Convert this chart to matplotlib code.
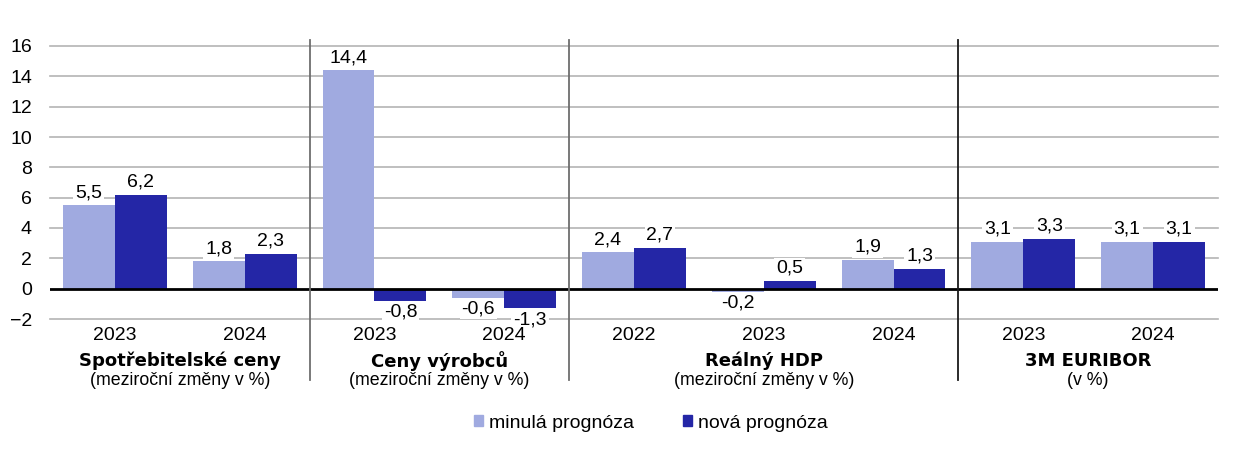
import matplotlib
matplotlib.use("Agg")
import matplotlib.pyplot as plt
from matplotlib.patches import Patch
import numpy as np

plt.rcParams['font.family'] = ['Liberation Sans', 'DejaVu Sans']

years = ["2023", "2024", "2023", "2024", "2022", "2023", "2024", "2023", "2024"]
prev_forecast = [5.5, 1.8, 14.4, -0.6, 2.4, -0.2, 1.9, 3.1, 3.1]
new_forecast = [6.2, 2.3, -0.8, -1.3, 2.7, 0.5, 1.3, 3.3, 3.1]
group_titles = ["Spotřebitelské ceny", "Ceny výrobců", "Reálný HDP", "3M EURIBOR"]
group_subtitles = ["(meziroční změny v %)", "(meziroční změny v %)", "(meziroční změny v %)", "(v %)"]
group_sizes = [2, 2, 3, 2]
series_names = ["minulá prognóza", "nová prognóza"]
y_ticks = [-2, 0, 2, 4, 6, 8, 10, 12, 14, 16]

c_light = "#A0AAE0"
c_dark = "#2426A6"
FS = 14

fig = plt.figure(figsize=(12.54, 4.74), dpi=100)
ax = fig.add_axes([50/1254, 1-319/474, 1168/1254, 273/474])

x = np.arange(len(years))
w = 0.4
b1 = ax.bar(x - w/2, prev_forecast, w, color=c_light, zorder=3)
b2 = ax.bar(x + w/2, new_forecast, w, color=c_dark, zorder=3)

ax.set_xlim(-0.5, len(years) - 0.5)
ax.set_ylim(-2, 16)
ax.set_yticks(y_ticks)
ax.set_yticklabels([("\u2212" + str(-t)) if t < 0 else str(t) for t in y_ticks], fontsize=FS)
for t in y_ticks:
    if t == 0:
        continue
    ax.axhline(t, color="#B4B4B4", lw=1.2, zorder=1, clip_on=False)
ax.axhline(0, color="black", lw=2, zorder=4)

for s in ax.spines.values():
    s.set_visible(False)
ax.tick_params(axis='y', length=0, pad=13)
ax.tick_params(axis='x', length=0)
ax.set_xticks([])

def fmt(v):
    return ("-" if v < 0 else "") + f"{abs(v):.1f}".replace(".", ",")

for bars, vals in ((b1, prev_forecast), (b2, new_forecast)):
    for bar, v in zip(bars, vals):
        cx = bar.get_x() + bar.get_width()/2
        if v >= 0:
            ax.annotate(fmt(v), (cx, v), xytext=(0, 3), textcoords="offset points",
                        ha="center", va="bottom", fontsize=FS, zorder=2,
                        bbox=dict(boxstyle="square,pad=0.1", fc="white", ec="none"))
        else:
            ax.annotate(fmt(v), (cx, v), xytext=(0, -2), textcoords="offset points",
                        ha="center", va="top", fontsize=FS, zorder=2,
                        bbox=dict(boxstyle="square,pad=0.1", fc="white", ec="none"))

tr = ax.get_xaxis_transform()
for xi, yr in zip(x, years):
    ax.text(xi, -0.062, yr, transform=tr, ha="center", va="center", fontsize=FS)

start = 0
sep_colors = ["#6E6E6E", "#6E6E6E", "#1A1A1A"]
for gi, (title, sub, n) in enumerate(zip(group_titles, group_subtitles, group_sizes)):
    center = start + (n - 1) / 2
    ax.text(center, -0.154, title, transform=tr, ha="center", va="center",
            fontsize=13, fontweight="bold", family=["DejaVu Sans"])
    ax.text(center, -0.227, sub, transform=tr, ha="center", va="center", fontsize=12.8)
    start += n
    if gi < len(group_sizes) - 1:
        ax.plot([start - 0.5, start - 0.5], [-0.223, 1.022], transform=tr,
                color=sep_colors[gi], lw=1.3, clip_on=False, zorder=6)

handles = [Patch(color=c_light), Patch(color=c_dark)]
fig.legend(handles, series_names, loc="center", bbox_to_anchor=(0.519, 1-423/474),
           ncol=2, frameon=False, fontsize=FS, handlelength=0.5, handleheight=0.5,
           columnspacing=2.5, handletextpad=0.3)

fig.savefig("out.png", dpi=100)
